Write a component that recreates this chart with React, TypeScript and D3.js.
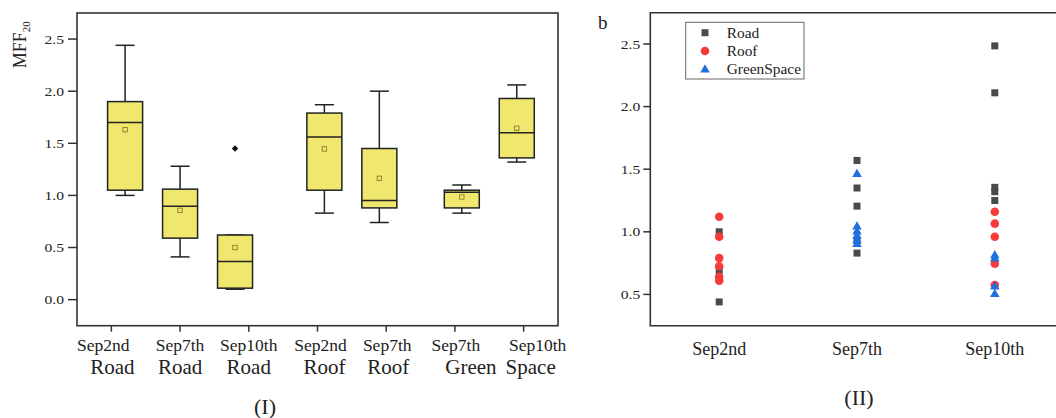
import React from "react";
import * as d3 from "d3";

// ---------- Panel (I) data: box plots of MFF20 ----------
const boxDates = ["Sep2nd", "Sep7th", "Sep10th", "Sep2nd", "Sep7th", "Sep7th", "Sep10th"];
const boxSites = ["Road", "Road", "Road", "Roof", "Roof", "Green", "Space"];
const whiskerLow = [1.0, 0.41, 0.1, 0.83, 0.74, 0.83, 1.32];
const q1 = [1.05, 0.59, 0.11, 1.05, 0.88, 0.88, 1.36];
const median = [1.7, 0.895, 0.365, 1.56, 0.95, 1.03, 1.6];
const q3 = [1.9, 1.06, 0.62, 1.79, 1.45, 1.05, 1.93];
const whiskerHigh = [2.44, 1.28, 0.62, 1.87, 2.0, 1.1, 2.06];
const mean = [1.63, 0.857, 0.5, 1.446, 1.164, 0.985, 1.644];
const outliers = [[], [], [1.45], [], [], [], []];
// slot of each box along panel (I) (grouped Road / Roof / GreenSpace)
const boxSlot = [0.875, 1.875, 2.875, 4.5, 5.5, 7, 8];
const leftTicks = [0, 0.5, 1, 1.5, 2, 2.5];

// ---------- Panel (II) data: scatter ----------
const dates = ["Sep2nd", "Sep7th", "Sep10th"];
const roadValues = [
  [1.0, 0.69, 0.44],
  [1.57, 1.35, 1.205, 0.93, 0.83],
  [2.485, 2.11, 1.355, 1.32, 1.25],
];
const roofValues = [
  [1.12, 0.96, 0.79, 0.725, 0.64, 0.61],
  [],
  [1.16, 1.065, 0.96, 0.745, 0.575],
];
const greenValues = [
  [],
  [1.465, 1.045, 1.005, 0.97, 0.935, 0.905],
  [0.815, 0.79, 0.565, 0.505],
];
const rightTicks = [0.5, 1, 1.5, 2, 2.5];
const legendNames = ["Road", "Roof", "GreenSpace"];

const FONT = "'Liberation Serif', 'Times New Roman', 'DejaVu Serif', serif";
const AXIS = "#333";
const GRAY = "#4a4a4a";
const RED = "#f73b3b";
const BLUE = "#1f6fe0";

// small label nudges (text layout of the original figure)
const dateLabelShift = [-8, 0, 0, 3, 1, 1, 14];
const siteLabelShift = [1, 0, 0, 7, 2, 16, 7];

function Square({ x, y, s, fill }: { x: number; y: number; s: number; fill: string }) {
  return <rect x={x - s / 2} y={y - s / 2} width={s} height={s} fill={fill} />;
}
function Circle({ x, y, r, fill }: { x: number; y: number; r: number; fill: string }) {
  return <circle cx={x} cy={y} r={r} fill={fill} />;
}
function Triangle({ x, y, s, fill }: { x: number; y: number; s: number; fill: string }) {
  const h = s * 0.87;
  return (
    <path
      d={`M${x},${y - h * 0.6}L${x + s / 2},${y + h * 0.4}L${x - s / 2},${y + h * 0.4}Z`}
      fill={fill}
    />
  );
}

export default function App() {
  const W = 1056;
  const H = 418;

  // ----- Panel I geometry -----
  const L = { x0: 77, x1: 558, y0: 13, y1: 325.7 };
  const yL = d3.scaleLinear().domain([-0.25, 2.75]).range([L.y1, L.y0]);
  const xSlot = d3.scaleLinear().domain([0, 8.75]).range([L.x0, L.x1]);
  const xTickL = d3
    .scalePoint<number>()
    .domain(boxDates.map((_, i) => i))
    .range([L.x0, L.x1])
    .padding(0.5);
  const boxW = 35;
  const capW = 19;

  // ----- Panel II geometry -----
  const R = { x0: 650.3, x1: 1063.7, y0: 12.7, y1: 325.7 };
  const yR = d3.scaleLinear().domain([0.25, 2.75]).range([R.y1, R.y0]);
  const xR = d3.scalePoint<string>().domain(dates).range([R.x0, R.x1]).padding(0.5);

  return (
    <svg
      width={W}
      height={H}
      style={{ position: "absolute", left: 0, top: 0, background: "#fff" }}
      fontFamily={FONT}
    >
      {/* ================= Panel I ================= */}
      <g>
        {boxSlot.map((s, i) => {
          const cx = xSlot(s);
          return (
            <g key={"box" + i} stroke="#222" strokeWidth={1.5}>
              <line x1={cx} x2={cx} y1={yL(q3[i])} y2={yL(whiskerHigh[i])} />
              <line x1={cx - capW / 2} x2={cx + capW / 2} y1={yL(whiskerHigh[i])} y2={yL(whiskerHigh[i])} />
              <line x1={cx} x2={cx} y1={yL(q1[i])} y2={yL(whiskerLow[i])} />
              <line x1={cx - capW / 2} x2={cx + capW / 2} y1={yL(whiskerLow[i])} y2={yL(whiskerLow[i])} />
              <rect
                x={cx - boxW / 2}
                y={yL(q3[i])}
                width={boxW}
                height={yL(q1[i]) - yL(q3[i])}
                fill="#efe76e"
              />
              <line x1={cx - boxW / 2} x2={cx + boxW / 2} y1={yL(median[i])} y2={yL(median[i])} />
              <rect
                x={cx - 2.2}
                y={yL(mean[i]) - 2.2}
                width={4.4}
                height={4.4}
                fill="none"
                stroke="#8a7a2c"
                strokeWidth={0.9}
              />
              {outliers[i].map((o, j) => (
                <path
                  key={j}
                  d={`M${cx},${yL(o) - 3.2}L${cx + 3.2},${yL(o)}L${cx},${yL(o) + 3.2}L${cx - 3.2},${yL(o)}Z`}
                  fill="#111"
                  stroke="none"
                />
              ))}
            </g>
          );
        })}

        <rect x={L.x0} y={L.y0} width={L.x1 - L.x0} height={L.y1 - L.y0} fill="none" stroke={AXIS} strokeWidth={1.6} />

        {leftTicks.map((t) => (
          <g key={"lt" + t}>
            <line x1={L.x0 - 9} x2={L.x0} y1={yL(t)} y2={yL(t)} stroke={AXIS} strokeWidth={1.5} />
            <text
              transform={`translate(${L.x0 - 13},${yL(t) + 4.5}) scale(1.2,1)`}
              textAnchor="end"
              fontSize={13}
              fill="#222"
            >
              {d3.format(".1f")(t)}
            </text>
          </g>
        ))}

        {boxDates.map((d, i) => {
          const x = xTickL(i) as number;
          return (
            <g key={"lx" + i}>
              <line x1={x} x2={x} y1={L.y1} y2={L.y1 + 6} stroke={AXIS} strokeWidth={1.5} />
              <text x={x + dateLabelShift[i]} y={351} textAnchor="middle" fontSize={17.5} fill="#222">
                {d}
              </text>
              <text x={x + siteLabelShift[i]} y={373.5} textAnchor="middle" fontSize={21} fill="#222">
                {boxSites[i]}
              </text>
            </g>
          );
        })}

        <text transform="translate(25.7,68.3) rotate(-90)" fontSize={18} fill="#222">
          MFF
          <tspan fontSize={11} dy={4}>
            20
          </tspan>
        </text>

        <text x={265} y={414} textAnchor="middle" fontSize={22} fill="#222">
          (I)
        </text>
      </g>

      {/* ================= Panel II ================= */}
      <g>
        <path
          d={`M${R.x1},${R.y0}H${R.x0}V${R.y1}H${R.x1}`}
          fill="none"
          stroke={AXIS}
          strokeWidth={1.6}
        />

        {rightTicks.map((t) => (
          <g key={"rt" + t}>
            <line x1={R.x0 - 7} x2={R.x0} y1={yR(t)} y2={yR(t)} stroke={AXIS} strokeWidth={1.5} />
            <text
              transform={`translate(${R.x0 - 10},${yR(t) + 4.5}) scale(1.2,1)`}
              textAnchor="end"
              fontSize={13}
              fill="#222"
            >
              {d3.format(".1f")(t)}
            </text>
          </g>
        ))}

        {dates.map((d) => (
          <text key={"rx" + d} x={xR(d)} y={355} textAnchor="middle" fontSize={18} fill="#222">
            {d}
          </text>
        ))}

        {dates.map((d, i) =>
          roadValues[i].map((v, j) => (
            <Square key={`r${i}-${j}`} x={xR(d) as number} y={yR(v)} s={7} fill={GRAY} />
          ))
        )}
        {dates.map((d, i) =>
          roofValues[i].map((v, j) => (
            <Circle key={`f${i}-${j}`} x={xR(d) as number} y={yR(v)} r={4.3} fill={RED} />
          ))
        )}
        {dates.map((d, i) =>
          greenValues[i].map((v, j) => (
            <Triangle key={`g${i}-${j}`} x={xR(d) as number} y={yR(v)} s={9.5} fill={BLUE} />
          ))
        )}

        <rect x={685.7} y={22.3} width={118.3} height={56.7} fill="#fff" stroke="#666" strokeWidth={1} />
        {legendNames.map((n, i) => {
          const cy = 32.7 + i * 18.3;
          return (
            <g key={"lg" + n}>
              {i === 0 && <Square x={705} y={cy} s={7} fill={GRAY} />}
              {i === 1 && <Circle x={705} y={cy} r={4.3} fill={RED} />}
              {i === 2 && <Triangle x={705} y={cy} s={9.5} fill={BLUE} />}
              <text
                transform={`translate(726.7,${cy + 4.8}) scale(1.1,1)`}
                fontSize={14}
                fill="#222"
              >
                {n}
              </text>
            </g>
          );
        })}

        <text x={598} y={29.3} fontSize={19} fill="#222">
          b
        </text>
        <text x={859} y={405} textAnchor="middle" fontSize={22} fill="#222">
          (II)
        </text>
      </g>
    </svg>
  );
}
